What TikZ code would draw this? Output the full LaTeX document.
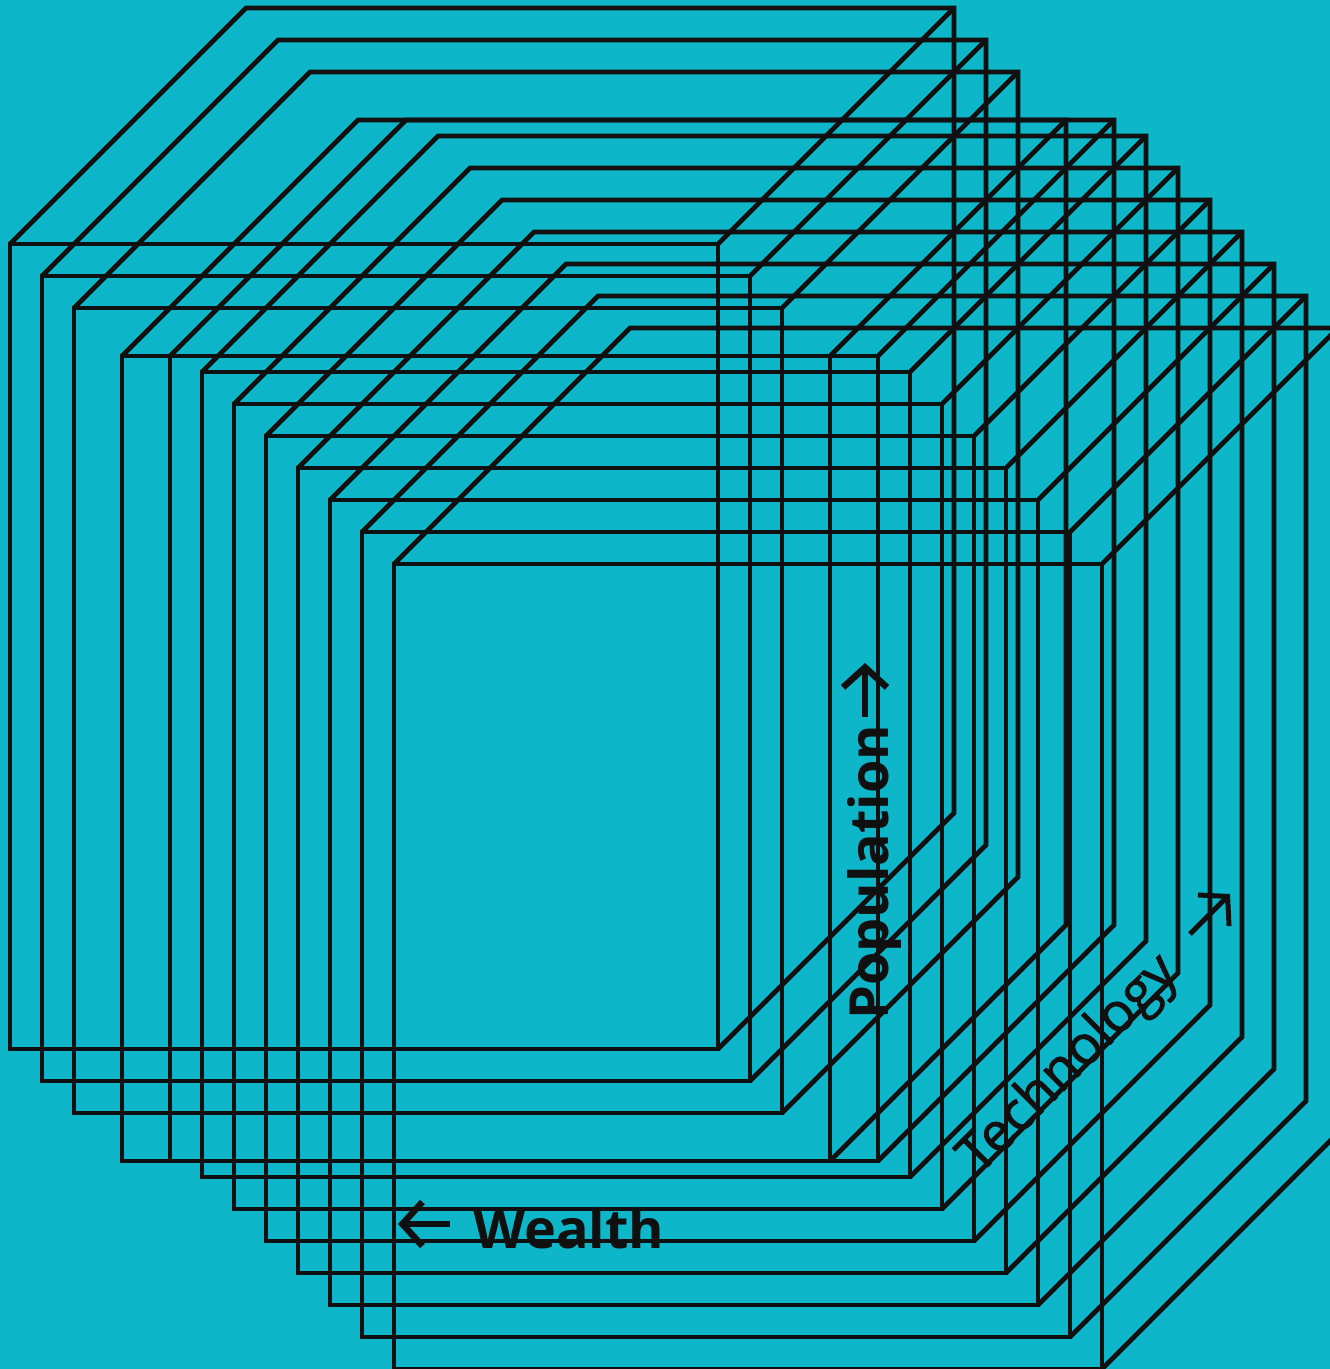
\documentclass[tikz,border=0pt]{standalone}
\usepackage{fontspec}
\setmainfont{Open Sans}
\newfontfamily\mediumfont[FakeBold=1.6]{Open Sans}
\usetikzlibrary{arrows.meta}
\definecolor{Lagoon}{RGB}{13,183,201}
\definecolor{Ink}{RGB}{16,16,16}

\begin{document}
\begin{tikzpicture}[x=1pt, y=-1pt,
    wire/.style={draw=Ink, line width=4.8pt},
    axislabel/.style={inner sep=0pt, text=Ink, font=\fontsize{54}{60}\selectfont},
    strong/.style={font=\fontsize{54}{60}\selectfont\bfseries},
    medium/.style={font=\fontsize{54}{60}\selectfont\mediumfont},
    pointer/.style={draw=Ink, line width=6.5pt, -{Straight Barb[sharp, length=20pt, width=44pt]}}]
    % background
    \fill[Lagoon] (0,0) rectangle (1330,1369);
    \useasboundingbox (0,0) rectangle (1330,1369);
    \clip (0,0) rectangle (1330,1369);

    % stacked boxes, given by the top left corner of the front face
    \foreach \x/\y in {10/244, 42/276, 74/308, 122/356, 170/356, 202/372,
                       234/404, 266/436, 298/468, 330/500, 362/532, 394/564}{
        \draw[wire] (\x,\y) rectangle ++(708,805);
        \draw[wire] (\x,\y) -- ++(236,-236) -- ++(708,0) -- ++(0,805) -- ++(-236,236);
        \draw[wire] (\x+708,\y) -- ++(236,-236);
    }

    % axis labels
    \node[axislabel, strong, anchor=base west] (wealth) at (473,1248) {Wealth};
    \draw[pointer] (450,1224) -- (398,1224);

    \node[axislabel, strong, rotate=90, anchor=base west] (population) at (888,1020) {Population};
    \draw[pointer] (865,717) -- (865,663);

    \node[axislabel, medium, rotate=45, anchor=base west] (technology) at (979,1176) {Technology};
    \draw[pointer, line width=5pt] (1190,934) -- (1230,894);
\end{tikzpicture}
\end{document}
